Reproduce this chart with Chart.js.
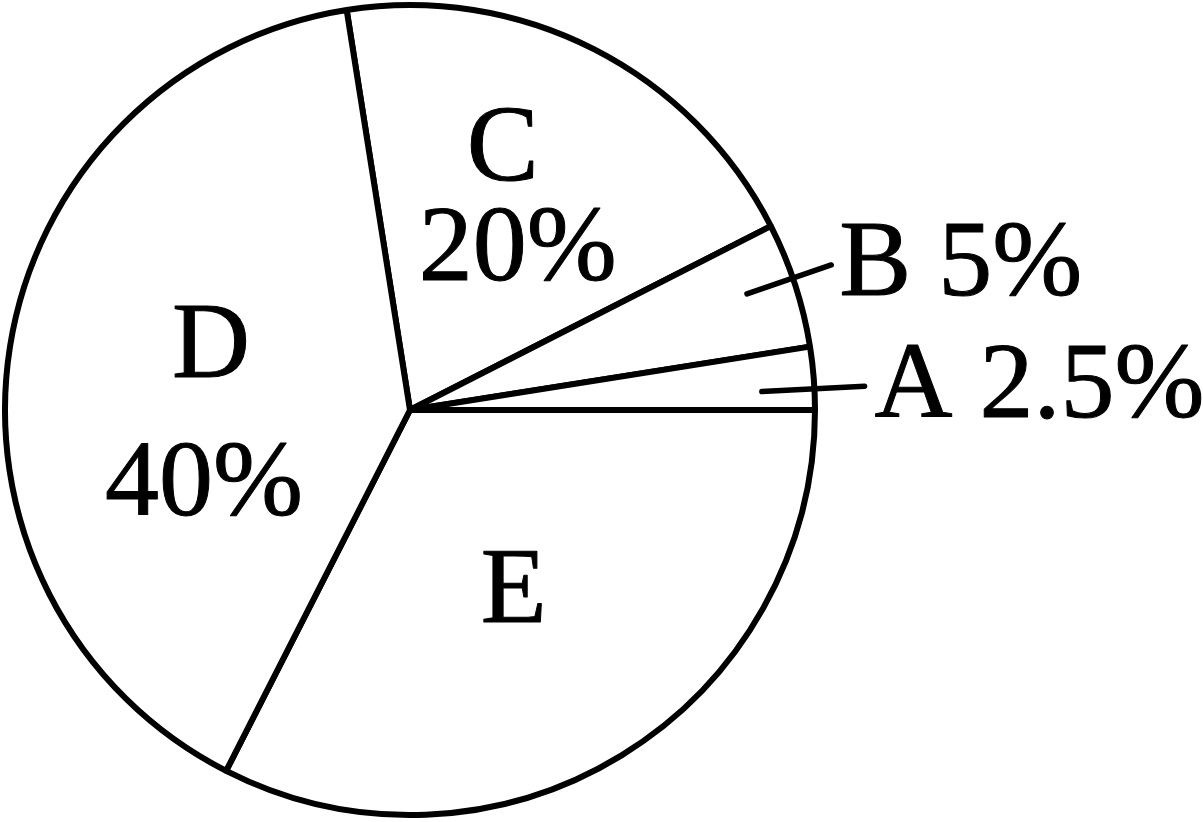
<!DOCTYPE html>
<html><head><meta charset="utf-8">
<script src="https://cdn.jsdelivr.net/npm/chart.js@4"></script>
<style>html,body{margin:0;padding:0;background:#fff;overflow:hidden}canvas{display:block}
#fl{position:absolute;left:-9999px;top:0;font:108px "Liberation Serif";}</style>
</head><body>
<div id="fl">ABCDE 2.5%</div>
<canvas id="c" width="1203" height="822"></canvas>
<script>
// Data
const categories = ['C', 'B', 'A', 'E', 'D'];
const percentages = [20, 5, 2.5, 32.5, 40];
const showPercent = [true, true, true, false, true];

// Label placement (style/layout only)
const labelLayout = {
  C: {mode: 'inside', frac: 0.6, lines: [[-17.5, -13], [-2.5, 87]]},
  D: {mode: 'inside', frac: 0.5, lines: [[1, -1], [-6, 137]]},
  E: {mode: 'inside', frac: 0.5, lines: [[-2, 39]]},
  B: {mode: 'outside', angAdj: -1, r0: 0.88, r1: 1.10, text: [8, 30]},
  A: {mode: 'outside', angAdj: 1.5, r0: 0.87, r1: 1.124, text: [10, 31]}
};
const FONT = '108px "Liberation Serif", "Times New Roman", serif';

function boldText(ctx, t, x, y) {
  ctx.lineWidth = 1;
  ctx.lineJoin = 'round';
  ctx.strokeText(t, x, y);
  ctx.fillText(t, x, y);
}

const labelPlugin = {
  id: 'pieLabels',
  afterDatasetsDraw(chart) {
    const ctx = chart.ctx;
    const meta = chart.getDatasetMeta(0);
    ctx.save();
    ctx.fillStyle = '#000';
    ctx.strokeStyle = '#000';
    ctx.font = FONT;
    ctx.textBaseline = 'alphabetic';
    meta.data.forEach((arc, i) => {
      const p = arc.getProps(['x', 'y', 'startAngle', 'endAngle', 'outerRadius'], true);
      const mid = (p.startAngle + p.endAngle) / 2;
      const cat = categories[i];
      const lay = labelLayout[cat];
      const pct = percentages[i] + '%';
      if (lay.mode === 'inside') {
        const ax = p.x + Math.cos(mid) * p.outerRadius * lay.frac;
        const ay = p.y + Math.sin(mid) * p.outerRadius * lay.frac;
        const texts = showPercent[i] ? [cat, pct] : [cat];
        ctx.textAlign = 'center';
        texts.forEach((t, k) => {
          boldText(ctx, t, ax + lay.lines[k][0], ay + lay.lines[k][1]);
        });
      } else {
        const a = mid + lay.angAdj * Math.PI / 180;
        const x0 = p.x + Math.cos(a) * p.outerRadius * lay.r0;
        const y0 = p.y + Math.sin(a) * p.outerRadius * lay.r0;
        const x1 = p.x + Math.cos(a) * p.outerRadius * lay.r1;
        const y1 = p.y + Math.sin(a) * p.outerRadius * lay.r1;
        ctx.lineWidth = 5.5;
        ctx.lineCap = 'round';
        ctx.beginPath();
        ctx.moveTo(x0, y0);
        ctx.lineTo(x1, y1);
        ctx.stroke();
        ctx.textAlign = 'left';
        boldText(ctx, cat + ' ' + pct, x1 + lay.text[0], y1 + lay.text[1]);
      }
    });
    ctx.restore();
  }
};

function draw() {
  new Chart(document.getElementById('c'), {
    type: 'pie',
    data: {
      labels: categories,
      datasets: [{
        data: percentages,
        backgroundColor: '#ffffff',
        borderColor: '#000000',
        borderWidth: 6
      }]
    },
    options: {
      responsive: false,
      animation: false,
      rotation: -9,
      layout: {padding: {left: 2, top: 2, right: 385, bottom: 4}},
      plugins: {legend: {display: false}, tooltip: {enabled: false}},
      events: []
    },
    plugins: [labelPlugin]
  });
}
let done = false;
function go() { if (!done) { done = true; draw(); } }
if (document.fonts && document.fonts.load) {
  document.fonts.load(FONT, 'ABCDE 2.5%').then(go, go);
  setTimeout(go, 1500);
} else { go(); }
</script>
</body></html>
